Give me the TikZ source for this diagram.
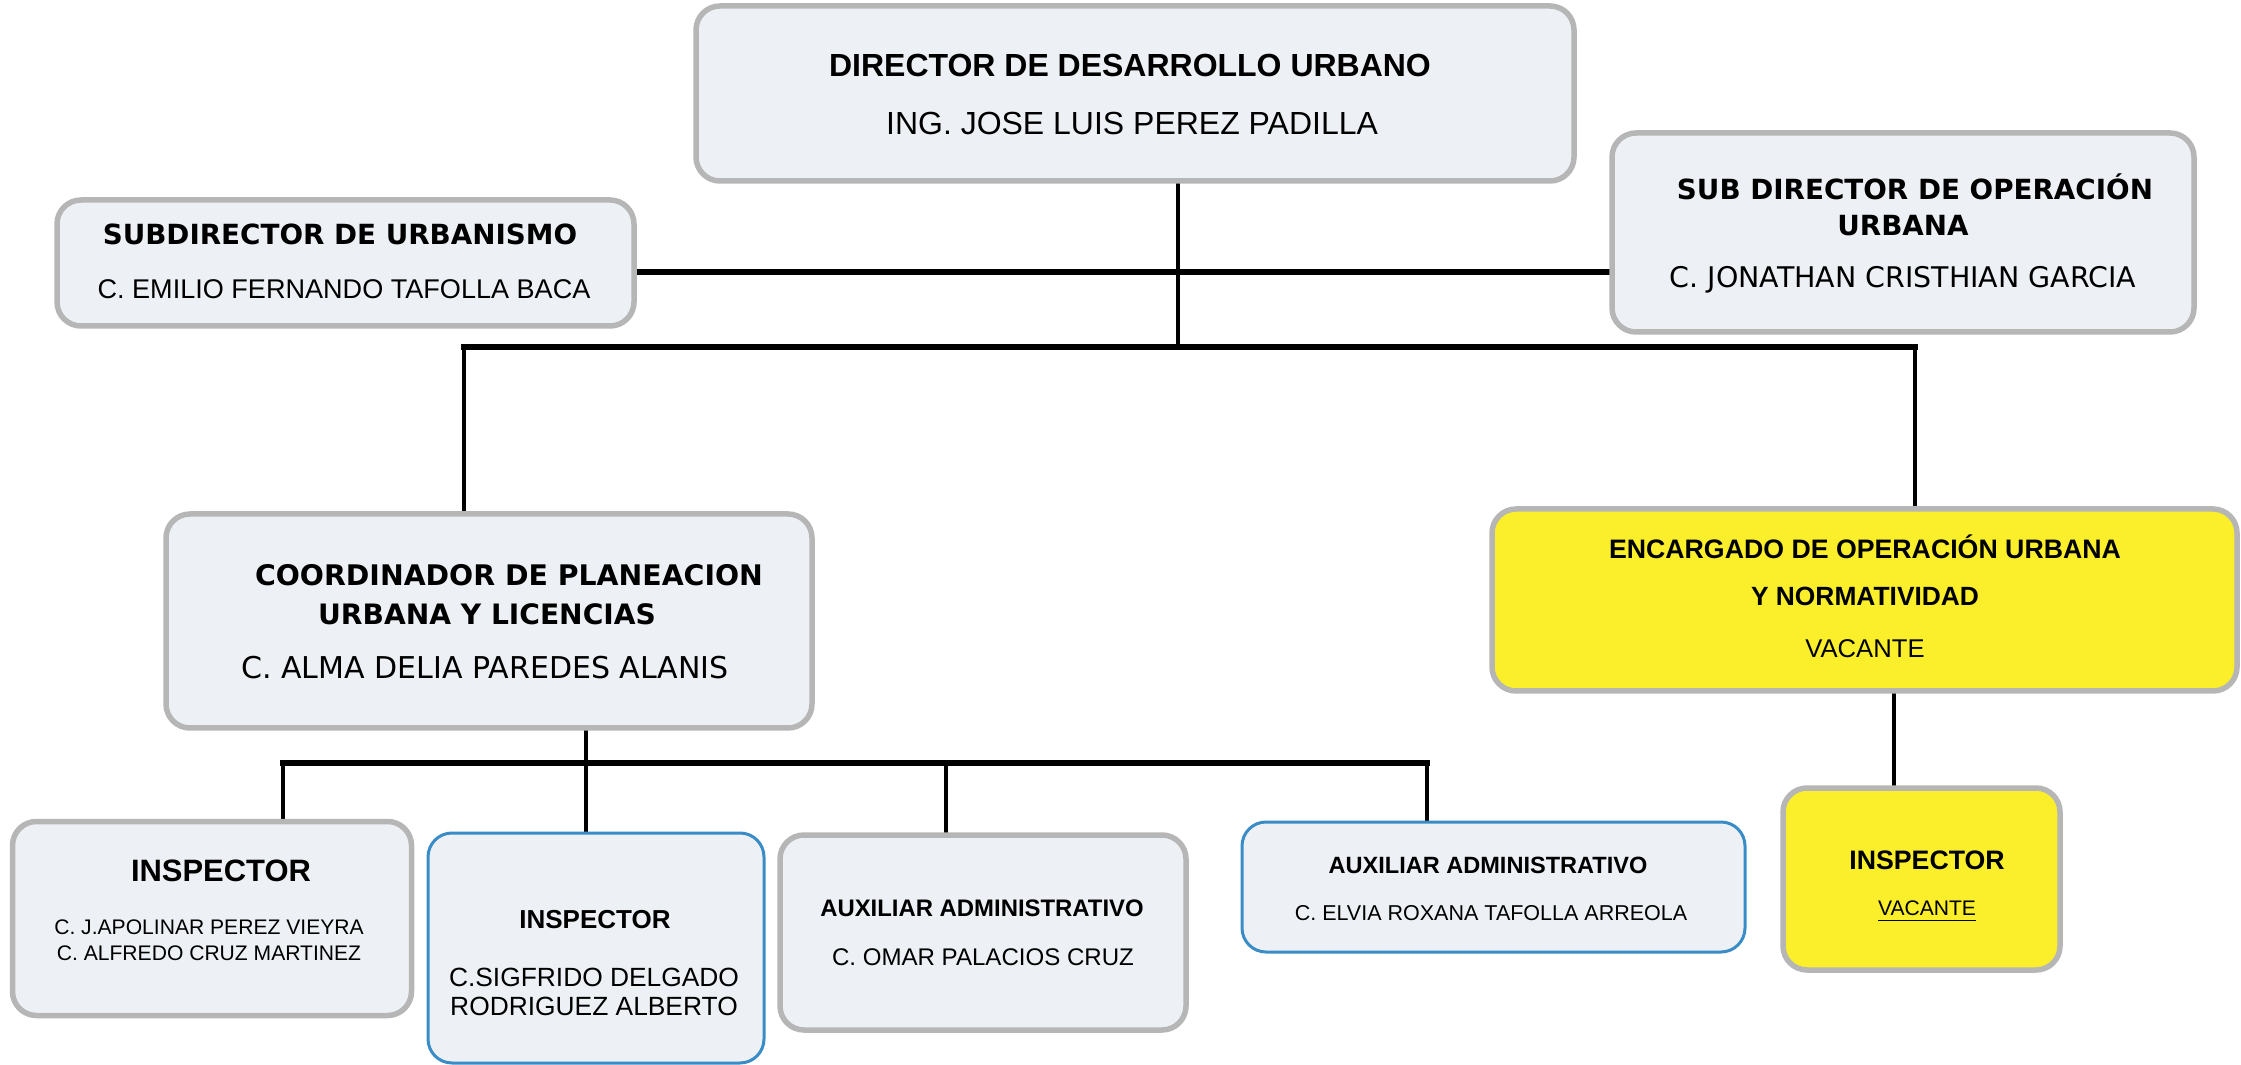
\documentclass[tikz,border=0pt]{standalone}
\usepackage{fontspec}
\setmainfont{Liberation Sans}
\newfontfamily\vfont{DejaVu Sans}
\newcommand\myfs[1]{\fontsize{#1}{#1}\selectfont}
\definecolor{bordergray}{RGB}{182,182,182}
\definecolor{boxfill}{RGB}{237,241,245}
\definecolor{borderblue}{RGB}{58,140,198}
\definecolor{boxyellow}{RGB}{250,239,42}
\pgfdeclarelayer{bg}
\pgfsetlayers{bg,main}
\tikzset{
 box/.style={draw=bordergray, line width=0.55mm, fill=boxfill, rounded corners=2.4mm, inner sep=0pt},
 bluebox/.style={box, draw=borderblue, line width=0.3mm},
 yelbox/.style={box, fill=boxyellow},
 txt/.style={inner sep=0pt, anchor=base},
 vline/.style={line width=0.45mm, black, line cap=rect},
 hline/.style={line width=0.52mm, black, line cap=rect},
}
\begin{document}
\begin{tikzpicture}[x=0.1mm, y=-0.1mm]
\useasboundingbox (0,0) rectangle (2241,1065);

% boxes
\node[box, minimum width=87.8mm, minimum height=17.5mm] (dir) at (1135,93.5) {};
\node[box, minimum width=57.7mm, minimum height=12.6mm] (suburb) at (345.5,263) {};
\node[box, minimum width=58.2mm, minimum height=19.9mm] (subop) at (1903,232.5) {};
\node[box, minimum width=64.6mm, minimum height=21.4mm] (coord) at (489,621) {};
\node[yelbox, minimum width=74.5mm, minimum height=18.2mm] (enc) at (1864.5,600) {};
\node[box, minimum width=39.9mm, minimum height=19.4mm] (insp1) at (212,918.5) {};
\node[bluebox, minimum width=33.6mm, minimum height=23.0mm] (insp2) at (596,948) {};
\node[box, minimum width=40.6mm, minimum height=19.5mm] (aux1) at (983,932.5) {};
\node[bluebox, minimum width=50.3mm, minimum height=13.0mm] (aux2) at (1493.5,887) {};
\node[yelbox, minimum width=27.7mm, minimum height=18.2mm] (insp3) at (1921.5,879) {};

% junction coordinates
\coordinate (jd) at (1178,347);
\coordinate (jl) at (464,347);
\coordinate (jr) at (1915,347);
\coordinate (hy) at (0,272);
\coordinate (jc) at (586,763);
\coordinate (ji1) at (283,763);
\coordinate (ja1) at (946,763);
\coordinate (ja2) at (1427,763);
\coordinate (je) at (1894,0);

% connectors (behind boxes)
\begin{pgfonlayer}{bg}
\fill[white] (0,0) rectangle (2241,1065);
\draw[vline] (dir.south -| jd) -- (jd);
\draw[hline] (suburb.east |- hy) -- (subop.west |- hy);
\draw[hline] (jl) -- (jr);
\draw[vline] (jl) -- (coord.north -| jl);
\draw[vline] (jr) -- (enc.north -| jr);
\draw[vline] (coord.south -| jc) -- (insp2.north -| jc);
\draw[hline] (ji1) -- (ja2);
\draw[vline] (ji1) -- (insp1.north -| ji1);
\draw[vline] (ja1) -- (aux1.north -| ja1);
\draw[vline] (ja2) -- (aux2.north -| ja2);
\draw[vline] (enc.south -| je) -- (insp3.north -| je);
\end{pgfonlayer}

% texts
\node[txt, font=\myfs{9.1}\bfseries] (dirT) at (1130,76.5) {DIRECTOR DE DESARROLLO URBANO};
\node[txt, font=\myfs{9.1}] (dirN) at (1132,134.5) {ING. JOSE LUIS PEREZ PADILLA};

\node[txt, font=\vfont\myfs{7.9}\bfseries] (suburbT) at (340,245) {SUBDIRECTOR DE URBANISMO};
\node[txt, font=\myfs{7.7}] (suburbN) at (344,298.7) {C. EMILIO FERNANDO TAFOLLA BACA};

\node[txt, font=\vfont\myfs{7.9}\bfseries] (subopT1) at (1915,200) {SUB DIRECTOR DE OPERACIÓN};
\node[txt, font=\vfont\myfs{7.9}\bfseries] (subopT2) at (1903,235.5) {URBANA};
\node[txt, font=\vfont\myfs{8.1}] (subopN) at (1903,288) {C. JONATHAN CRISTHIAN GARCIA};

\node[txt, font=\vfont\myfs{8.07}\bfseries] (coordT1) at (509,586) {COORDINADOR DE PLANEACION};
\node[txt, font=\vfont\myfs{8.0}\bfseries] (coordT2) at (487,625) {URBANA Y LICENCIAS};
\node[txt, font=\vfont\myfs{8.55}] (coordN) at (485,679) {C. ALMA DELIA PAREDES ALANIS};

\node[txt, font=\myfs{7.6}\bfseries] (encT1) at (1865,558.5) {ENCARGADO DE OPERACIÓN URBANA};
\node[txt, font=\myfs{7.5}\bfseries] (encT2) at (1865,605.5) {Y NORMATIVIDAD};
\node[txt, font=\myfs{7.3}] (encN) at (1865,657) {VACANTE};

\node[txt, font=\myfs{8.8}\bfseries] (insp1T) at (221,881) {INSPECTOR};
\node[txt, font=\myfs{6.0}] (insp1N1) at (209,934.5) {C. J.APOLINAR PEREZ VIEYRA};
\node[txt, font=\myfs{6.0}] (insp1N2) at (209,960.5) {C. ALFREDO CRUZ MARTINEZ};

\node[txt, font=\myfs{7.4}\bfseries] (insp2T) at (595,928) {INSPECTOR};
\node[txt, font=\myfs{7.5}] (insp2N1) at (594,986.5) {C.SIGFRIDO DELGADO};
\node[txt, font=\myfs{7.5}] (insp2N2) at (594,1015.5) {RODRIGUEZ ALBERTO};

\node[txt, font=\myfs{6.8}\bfseries] (aux1T) at (982,916.5) {AUXILIAR ADMINISTRATIVO};
\node[txt, font=\myfs{6.85}] (aux1N) at (983,965.6) {C. OMAR PALACIOS CRUZ};

\node[txt, font=\myfs{6.7}\bfseries] (aux2T) at (1488,873.5) {AUXILIAR ADMINISTRATIVO};
\node[txt, font=\myfs{6.12}] (aux2N) at (1491,920.7) {C. ELVIA ROXANA TAFOLLA ARREOLA};

\node[txt, font=\myfs{7.6}\bfseries] (insp3T) at (1927,869.5) {INSPECTOR};
\node[txt, font=\myfs{6.0}] (insp3N) at (1927,915.5) {\underline{VACANTE}};
\end{tikzpicture}
\end{document}
